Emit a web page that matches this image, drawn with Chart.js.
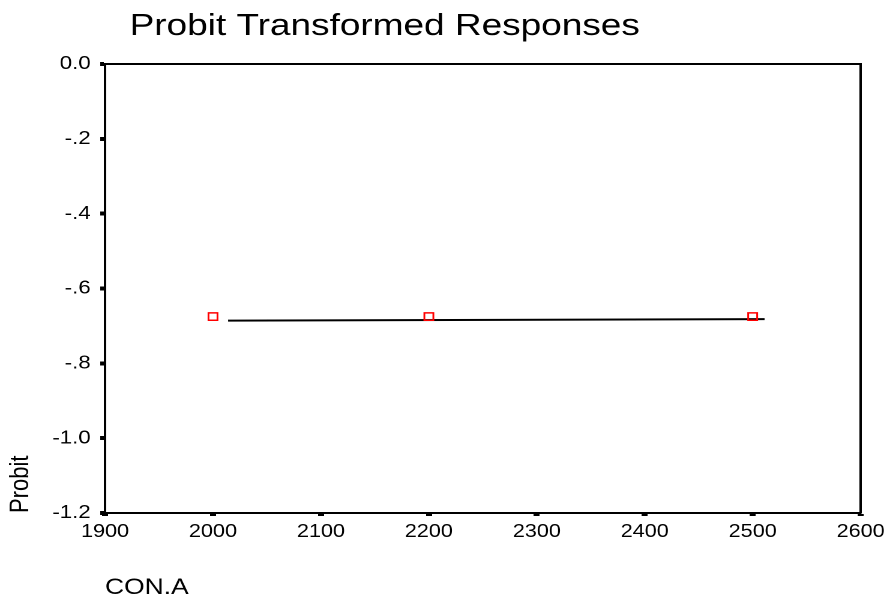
<!DOCTYPE html>
<html>
<head>
<meta charset="utf-8">
<title>Probit Transformed Responses</title>
<script src="https://cdn.jsdelivr.net/npm/chart.js@4.4.0/dist/chart.umd.min.js"></script>
<style>
    html, body { margin: 0; padding: 0; background: #fff; overflow: hidden; }
    /* the original picture is stretched sideways, so the chart is too */
    #wrap { width: 739px; height: 603px; transform: scaleX(1.2003); transform-origin: 0 0; }
</style>
</head>
<body>
<div id="wrap"><canvas id="probit-chart"></canvas></div>
<script>
// Observed responses (CON.A vs probit)
const conA = [2000, 2200, 2500];
const probit = [-0.675, -0.675, -0.675];

// Fitted probit line, end points
const fitX = [2014, 2511];
const fitY = [-0.686, -0.682];

// Axis ticks
const xTicks = [1900, 2000, 2100, 2200, 2300, 2400, 2500, 2600];
const yTicks = [0, -0.2, -0.4, -0.6, -0.8, -1.0, -1.2];
const yTickLabels = ['0.0', '-.2', '-.4', '-.6', '-.8', '-1.0', '-1.2'];

const FONT = '"Liberation Sans", Arial, sans-serif';

// Title is drawn by hand so it can sit left, like the original
const titlePlugin = {
    id: 'leftTitle',
    afterDraw(chart) {
        const ctx = chart.ctx;
        ctx.save();
        ctx.font = '30.8px ' + FONT;
        ctx.fillStyle = '#000';
        ctx.textBaseline = 'alphabetic';
        ctx.textAlign = 'left';
        ctx.fillText('Probit Transformed Responses', chart.chartArea.left + 20.5, 35);
        ctx.restore();
    }
};

const points = conA.map((x, i) => ({ x: x, y: probit[i] }));
const fitLine = fitX.map((x, i) => ({ x: x, y: fitY[i] }));

const ctx = document.getElementById('probit-chart');
new Chart(ctx, {
    type: 'scatter',
    data: {
        datasets: [{
            label: 'Observed',
            data: points,
            pointStyle: 'rect',
            pointRadius: 5.3,
            pointBorderWidth: 1.5,
            pointBorderColor: '#ff0000',
            pointBackgroundColor: 'rgba(255,255,255,0)',
            showLine: false
        }, {
            label: 'Fit',
            data: fitLine,
            showLine: true,
            pointRadius: 0,
            borderColor: '#000',
            borderWidth: 2
        }]
    },
    options: {
        responsive: true,
        maintainAspectRatio: false,
        animation: false,
        devicePixelRatio: 2,
        layout: { padding: { top: 64, right: 22, bottom: 0, left: 0 } },
        plugins: {
            legend: { display: false },
            tooltip: { enabled: false },
            title: { display: false }
        },
        scales: {
            x: {
                type: 'linear',
                position: 'bottom',
                min: 1900,
                max: 2600,
                afterBuildTicks: (scale) => { scale.ticks = xTicks.map(v => ({ value: v })); },
                afterFit: (scale) => {
                    scale.height = 90;
                    // the last label may hang past the frame, as in the original
                    scale.paddingRight = 0;
                },
                grid: { drawOnChartArea: false, drawTicks: true, tickLength: 3, tickWidth: 5, tickColor: '#000' },
                border: { display: true, color: '#000', width: 2 },
                ticks: {
                    padding: 5,
                    color: '#000',
                    font: { family: FONT, size: 18 },
                    callback: (v) => String(v)
                },
                title: {
                    display: true,
                    text: 'CON.A',
                    align: 'start',
                    color: '#000',
                    font: { family: FONT, size: 22 },
                    padding: { top: 0, bottom: 2 }
                }
            },
            y: {
                type: 'linear',
                position: 'left',
                min: -1.2,
                max: 0,
                afterBuildTicks: (scale) => { scale.ticks = yTicks.map(v => ({ value: v })); },
                afterFit: (scale) => { scale.width = 87.5; },
                grid: { drawOnChartArea: false, drawTicks: true, tickLength: 4, tickWidth: 4, tickColor: '#000' },
                border: { display: true, color: '#000', width: 2 },
                ticks: {
                    padding: 8,
                    color: '#000',
                    font: { family: FONT, size: 18.5 },
                    callback: (v) => {
                        const i = yTicks.findIndex(t => Math.abs(t - v) < 1e-6);
                        return i >= 0 ? yTickLabels[i] : '';
                    }
                },
                title: {
                    display: true,
                    text: 'Probit',
                    align: 'start',
                    color: '#000',
                    font: { family: FONT, size: 22 },
                    padding: { top: 4, bottom: 0 }
                }
            },
            // plain frame lines for the top and right of the box
            xTop: {
                type: 'linear',
                position: 'top',
                afterFit: (scale) => { scale.height = 0; },
                grid: { display: false },
                ticks: { display: false },
                border: { display: true, color: '#000', width: 2 }
            },
            yRight: {
                type: 'linear',
                position: 'right',
                afterFit: (scale) => { scale.width = 0; },
                grid: { display: false },
                ticks: { display: false },
                border: { display: true, color: '#000', width: 2 }
            }
        }
    },
    plugins: [titlePlugin]
});
</script>
</body>
</html>
